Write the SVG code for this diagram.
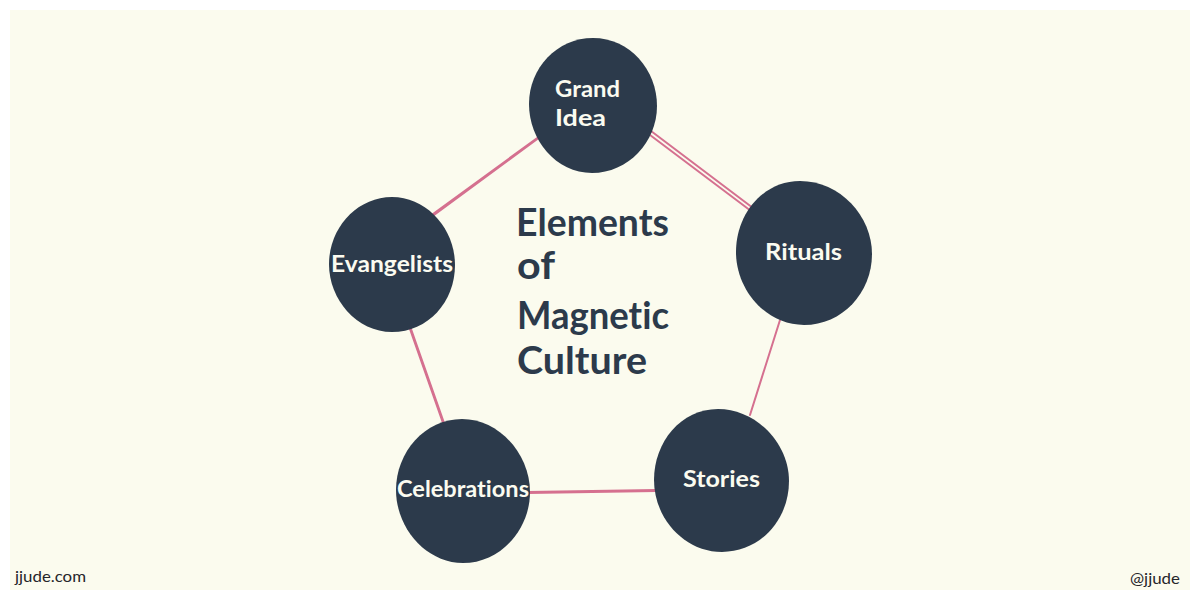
<svg xmlns="http://www.w3.org/2000/svg" width="1199" height="600" viewBox="0 0 1199 600">
<style>
text{font-variant-ligatures:none}
.blob{fill:#2c3a4b;stroke:none}
.lbl{font-family:"Lato","Noto Sans",sans-serif;font-size:22px;font-weight:700;fill:#fbfbf0}
.title{font-family:"Lato","Noto Sans",sans-serif;font-size:38px;font-weight:700;fill:#2c3a4b}
.foot{font-family:"Lato","Noto Sans",sans-serif;font-size:16px;font-weight:400;fill:#26262a}
.edge{fill:none;stroke:#d5708f;stroke-width:2;stroke-linecap:round}
</style>
<rect width="1199" height="600" fill="#ffffff"/>
<rect x="10" y="10" width="1180" height="580" fill="#fbfbee"/>
<g id="connectors">
<path class="edge" d="M540 136L433 214"/>
<path class="edge" d="M540 137L434 215"/>
<path class="edge" d="M651 131L753 208"/>
<path class="edge" d="M650 135L751 211"/>
<path class="edge" d="M780 320L750 415"/>
<path class="edge" d="M528 492L656 490"/>
<path class="edge" d="M528 493L656 491"/>
<path class="edge" d="M410 329L443 423"/>
<path class="edge" d="M411 329L444 423"/>
</g>
<g id="node-grand-idea">
<path class="blob" d="M593 38C630 38 657 70 657 106C657 142 628 173 592 173C556 173 529 140 529 104C529 68 557 38 593 38Z"/>
<text class="lbl" x="555" y="97" textLength="65" lengthAdjust="spacingAndGlyphs">Grand</text>
<text class="lbl" x="555" y="126" textLength="51" lengthAdjust="spacingAndGlyphs">Idea</text>
</g>
<g id="node-rituals">
<path class="blob" d="M800 181C840 181 872 216 872 254C872 293 842 325 804 325C766 325 736 290 736 252C736 214 763 181 800 181Z"/>
<text class="lbl" x="765" y="260" textLength="77" lengthAdjust="spacingAndGlyphs">Rituals</text>
</g>
<g id="node-stories">
<path class="blob" d="M718 409C756 409 789 443 789 481C789 520 760 552 722 552C684 552 654 518 654 480C654 442 681 409 718 409Z"/>
<text class="lbl" x="683" y="487" textLength="77" lengthAdjust="spacingAndGlyphs">Stories</text>
</g>
<g id="node-celebrations">
<path class="blob" d="M462 419C499 419 530 454 530 492C530 530 500 563 463 563C426 563 396 528 396 490C396 452 425 419 462 419Z"/>
<text class="lbl" x="397" y="497" textLength="132" lengthAdjust="spacingAndGlyphs">Celebrations</text>
</g>
<g id="node-evangelists">
<path class="blob" d="M392 197C427 197 455 229 455 265C455 302 428 332 392 332C357 332 329 300 329 264C329 228 357 197 392 197Z"/>
<text class="lbl" x="331" y="272" textLength="122" lengthAdjust="spacingAndGlyphs">Evangelists</text>
</g>
<g id="title">
<text class="title" x="516" y="236" textLength="153" lengthAdjust="spacingAndGlyphs">Elements</text>
<text class="title" x="517" y="279" textLength="38" lengthAdjust="spacingAndGlyphs">of</text>
<text class="title" x="517" y="329" textLength="152" lengthAdjust="spacingAndGlyphs">Magnetic</text>
<text class="title" x="517" y="374" textLength="130" lengthAdjust="spacingAndGlyphs">Culture</text>
</g>
<text class="foot" x="15" y="582" textLength="71" lengthAdjust="spacingAndGlyphs">jjude.com</text>
<text class="foot" x="1130" y="584" textLength="50" lengthAdjust="spacingAndGlyphs">@jjude</text>
</svg>
